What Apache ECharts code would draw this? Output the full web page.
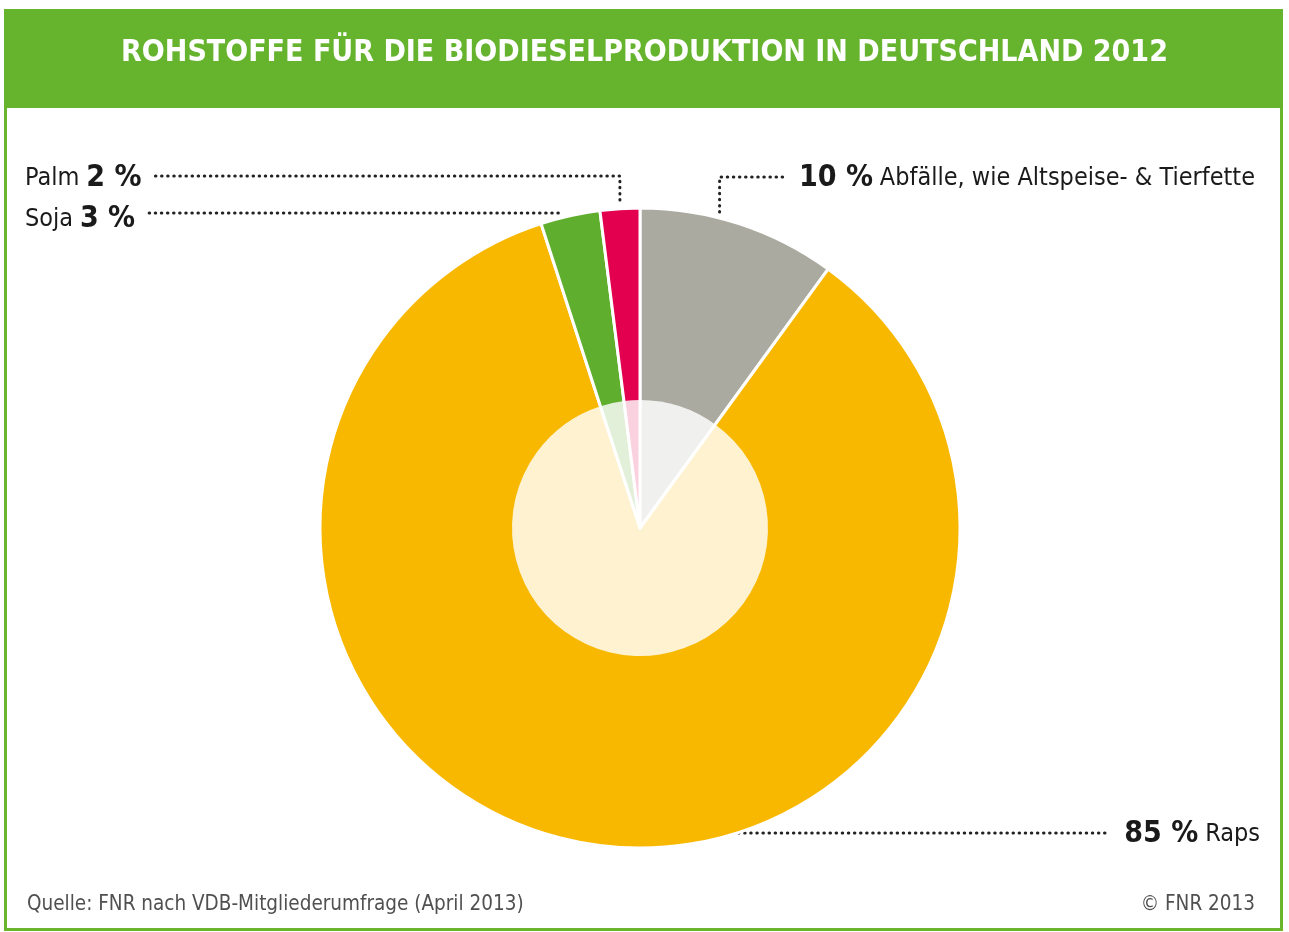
<!DOCTYPE html>
<html>
<head>
<meta charset="utf-8">
<title>Rohstoffe für die Biodieselproduktion in Deutschland 2012</title>
<script src="https://cdn.jsdelivr.net/npm/echarts@6.0.0/dist/echarts.min.js"></script>
<style>
  html, body { margin: 0; padding: 0; background: #fff; }
  #main { width: 1289px; height: 932px; }
</style>
</head>
<body>
<div id="main"></div>
<script>
// Daten (im Uhrzeigersinn ab 12 Uhr)
var names = ['Abfälle, wie Altspeise- & Tierfette', 'Raps', 'Soja', 'Palm'];
var shares = [10, 85, 3, 2];
var colors = ['#abaaa1', '#f9b800', '#5fae2e', '#e2004f'];

var FONT = "'Liberation Sans Narrow', 'DejaVu Sans Condensed', 'Roboto', sans-serif";
var pie_center = [640, 528];
var pie_radius = 320;

// Beschriftungen: Position und Ankerpunkt auf dem Kreisbogen (Anteil innerhalb des Segments)
var label_cfg = {
    'Palm': {side: 'left', x: 25, y: 178, lineY: 176, at: 0.5},
    'Soja': {side: 'left', x: 25, y: 219, lineY: 213, at: 0.5},
    'Abfälle, wie Altspeise- & Tierfette': {side: 'right', x: 799, y: 178, lineY: 177, at: 0.4},
    'Raps': {side: 'end', x: 1260, y: 834, lineY: 833, at: 0.412}
};

var total = shares.reduce(function (a, b) { return a + b; }, 0);

function anchor_point(idx, at) {
    var start = 0;
    for (var k = 0; k < idx; k++) start += shares[k];
    var deg = (start + shares[idx] * at) / total * 360;
    var rad = deg * Math.PI / 180;
    return [pie_center[0] + pie_radius * Math.sin(rad), pie_center[1] - pie_radius * Math.cos(rad)];
}

var pie_data = names.map(function (n, i) {
    return {name: n, value: shares[i], itemStyle: {color: colors[i]}};
});

var chart = echarts.init(document.getElementById('main'));

var option = {
    animation: false,
    title: [{
        text: 'ROHSTOFFE FÜR DIE BIODIESELPRODUKTION IN DEUTSCHLAND 2012',
        left: 'center',
        top: 33,
        textStyle: {color: '#fff', fontFamily: FONT, fontSize: 30, fontWeight: 'bold'}
    }, {
        text: 'Quelle: FNR nach VDB-Mitgliederumfrage (April 2013)',
        left: 22,
        top: 889,
        textStyle: {color: '#505050', fontFamily: FONT, fontSize: 20.5, fontWeight: 'normal'}
    }, {
        text: '© FNR 2013',
        right: 29,
        top: 889,
        textStyle: {color: '#505050', fontFamily: FONT, fontSize: 20.5, fontWeight: 'normal'}
    }],
    graphic: [{
        type: 'rect',
        z: -10,
        shape: {x: 5.5, y: 10.5, width: 1276, height: 919},
        style: {fill: '#fff', stroke: '#6ab42e', lineWidth: 3}
    }, {
        type: 'rect',
        z: -9,
        shape: {x: 4, y: 9, width: 1279, height: 99},
        style: {fill: '#66b32e'}
    }],
    series: [{
        type: 'pie',
        center: pie_center,
        radius: [0, pie_radius],
        startAngle: 90,
        clockwise: true,
        avoidLabelOverlap: false,
        silent: true,
        itemStyle: {borderColor: '#fff', borderWidth: 3},
        label: {
            show: true,
            position: 'outside',
            fontFamily: FONT,
            color: '#1a1a1a',
            formatter: function (p) {
                var c = label_cfg[p.name];
                if (c.side === 'left') return '{n|' + p.name + '}  {v|' + p.value + ' %}';
                return '{v|' + p.value + ' %}  {n|' + p.name + '}';
            },
            rich: {
                n: {fontFamily: FONT, fontSize: 25, color: '#1a1a1a'},
                v: {fontFamily: FONT, fontSize: 30, fontWeight: 'bold', color: '#1a1a1a'}
            }
        },
        labelLine: {
            show: true,
            smooth: false,
            lineStyle: {color: '#222', width: 3, type: [0.5, 5.6], cap: 'round'}
        },
        labelLayout: function (params) {
            var name = names[params.dataIndex];
            var c = label_cfg[name];
            var a = anchor_point(params.dataIndex, c.at);
            var w = params.labelRect.width;
            var pts;
            if (c.side === 'left') {
                var x0 = c.x + w + 14;
                if (Math.abs(a[1] - c.lineY) > 12) {
                    pts = [[x0, c.lineY], [a[0], c.lineY], [a[0], a[1] - 4]];
                } else {
                    pts = [[x0, c.lineY], [a[0] - 8, c.lineY]];
                }
                return {x: c.x, y: c.y, align: 'left', verticalAlign: 'middle', labelLinePoints: pts};
            } else if (c.side === 'right') {
                pts = [[a[0], a[1] - 6], [a[0], c.lineY], [c.x - 14, c.lineY]];
                return {x: c.x, y: c.y, align: 'left', verticalAlign: 'middle', labelLinePoints: pts};
            }
            pts = [[a[0], c.lineY], [c.x - w - 14, c.lineY]];
            return {x: c.x, y: c.y, align: 'right', verticalAlign: 'middle', labelLinePoints: pts};
        },
        data: pie_data
    }, {
        // helle Innenfläche
        type: 'pie',
        center: pie_center,
        radius: [0, 128],
        startAngle: 90,
        clockwise: true,
        silent: true,
        label: {show: false},
        labelLine: {show: false},
        itemStyle: {color: 'rgba(255,255,255,0.82)', borderWidth: 0},
        data: pie_data.map(function (d) { return {name: d.name, value: d.value}; })
    }]
};

chart.setOption(option);
</script>
</body>
</html>
